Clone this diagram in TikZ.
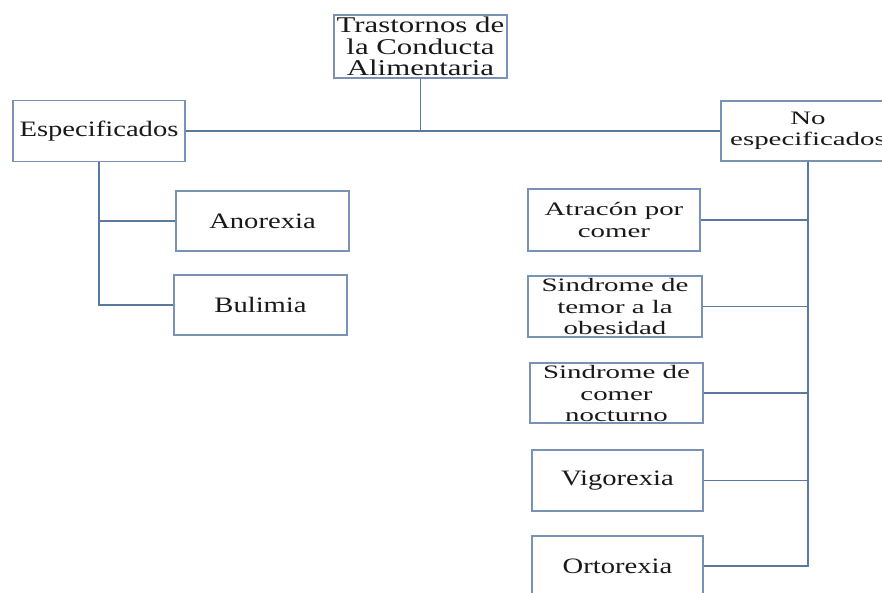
\documentclass[tikz,border=0pt]{standalone}
\usepackage{fontspec}
\setmainfont{Liberation Serif}
\newfontfamily\bigfam[FakeStretch=1.30]{Liberation Serif}
\newfontfamily\topfam[FakeStretch=1.37]{Liberation Serif}
\newfontfamily\smallfam[FakeStretch=1.52]{Liberation Serif}
\begin{document}
\begin{tikzpicture}[x=1bp,y=-1bp,
  box/.style={draw=boxc, line width=1.3bp, fill=white, align=center, inner sep=0pt, text=black!90},
  bigtxt/.style={font=\bigfam\fontsize{22bp}{22bp}\selectfont},
  toptxt/.style={font=\topfam\fontsize{22.5bp}{21.3bp}\selectfont},
  smalltxt/.style={font=\smallfam\fontsize{19bp}{21.5bp}\selectfont},
  link/.style={draw=linec, line width=1.5bp}]
\definecolor{boxc}{RGB}{120,145,180}
\definecolor{linec}{RGB}{90,120,160}
\useasboundingbox (0,0) rectangle (882,593);
\begin{scope}
\clip (0,0) rectangle (882,593);
\node[box, toptxt, minimum width=173bp, minimum height=63bp] (top) at (420.5,46.5) {Trastornos de\\la Conducta\\Alimentaria};
\node[box, bigtxt, minimum width=172bp, minimum height=61bp] (esp) at (99,131) {Especificados};
\node[box, smalltxt, minimum width=174bp, minimum height=60bp] (noesp) at (808,131) {No\\especificados};
\node[box, bigtxt, minimum width=173bp, minimum height=60bp] (ano) at (262.5,221) {Anorexia};
\node[box, bigtxt, minimum width=173bp, minimum height=60bp] (bul) at (260.5,305) {Bulimia};
\node[box, smalltxt, minimum width=172bp, minimum height=62bp] (atr) at (614,220) {Atracón por\\comer};
\node[box, smalltxt, minimum width=174bp, minimum height=61bp] (tem) at (615,306.5) {Sindrome de\\temor a la\\obesidad};
\node[box, smalltxt, minimum width=173bp, minimum height=60bp] (noc) at (616.5,393) {\smash{\raisebox{-8bp}{\begin{tabular}{@{}c@{}}Sindrome de\\comer\\nocturno\end{tabular}}}};
\node[box, bigtxt, minimum width=171bp, minimum height=61bp] (vig) at (617.5,480.5) {Vigorexia};
\node[box, bigtxt, minimum width=171bp, minimum height=60bp] (ort) at (617.5,566) {Ortorexia};
\draw[link] (esp.east) -- (noesp.west);
\draw[link] (top.south) -- (top.south |- esp.east);
\draw[link] (esp.south) |- (ano.west);
\draw[link] (esp.south) |- (bul.west);
\draw[link] (noesp.south) |- (atr.east);
\draw[link] (noesp.south) |- (tem.east);
\draw[link] (noesp.south) |- (noc.east);
\draw[link] (noesp.south) |- (vig.east);
\draw[link] (noesp.south) |- (ort.east);
\end{scope}
\end{tikzpicture}
\end{document}
